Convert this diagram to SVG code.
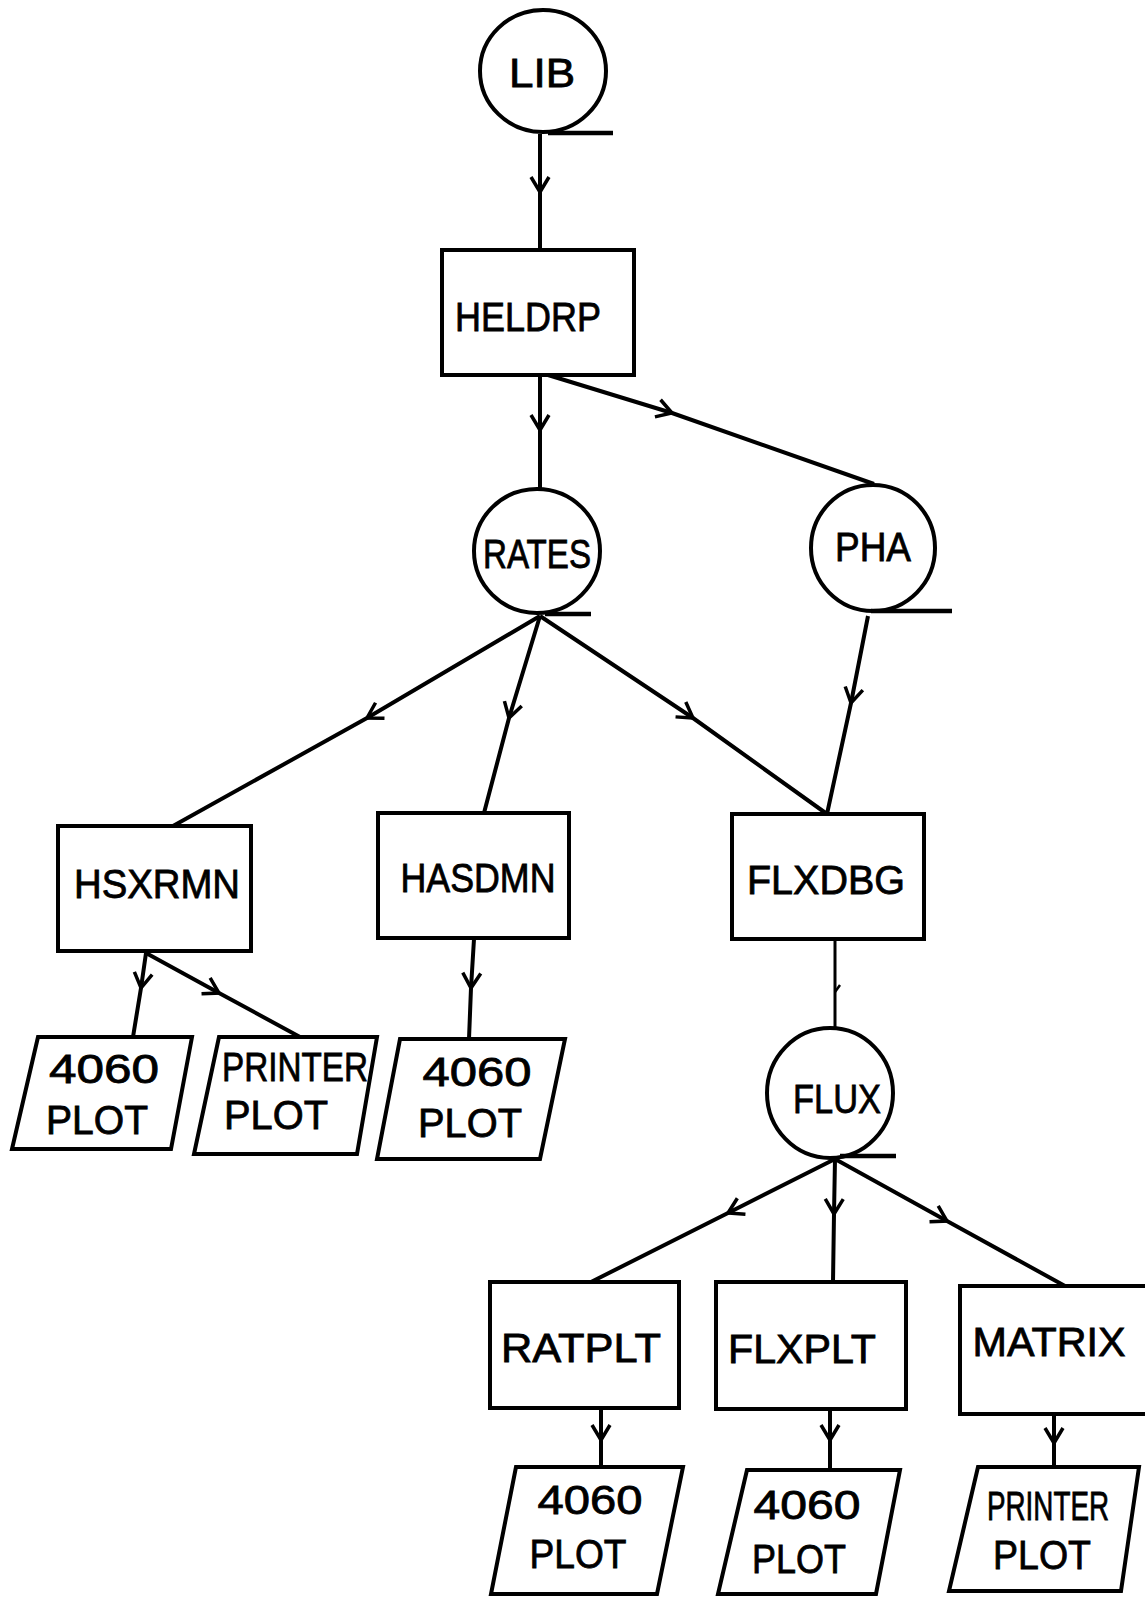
<svg xmlns="http://www.w3.org/2000/svg" width="1145" height="1598" viewBox="0 0 1145 1598">
<style>
.n{fill:none;stroke:#000;stroke-width:4}
.t{font-family:"Liberation Sans",Arial,sans-serif;font-size:40px;fill:#000;text-anchor:middle;stroke:#000;stroke-width:0.8}
.c{fill:none;stroke:#000;stroke-width:4;marker-mid:url(#chev)}
.bar{stroke:#000;stroke-width:4.5}
</style>
<defs>
<marker id="chev" markerUnits="userSpaceOnUse" orient="auto" overflow="visible" markerWidth="1" markerHeight="1" refX="0" refY="0">
<path d="M-15,-9 L0,0 L-15,9" fill="none" stroke="#000" stroke-width="3.5"/>
</marker>
<marker id="chevs" markerUnits="userSpaceOnUse" orient="auto" overflow="visible" markerWidth="1" markerHeight="1" refX="0" refY="0">
<path d="M-7,-5 L0,0" fill="none" stroke="#000" stroke-width="2.5"/>
</marker>
</defs>
<rect width="1145" height="1598" fill="#fff"/>

<g id="connectors">
<path class="c" d="M540,134 L540,192 L540,250"/>
<path class="c" d="M540,375 L540,430 L540,489"/>
<path class="c" d="M548,375 L672,413 L874,484"/>
<path class="c" d="M540,616 L367,718 L173,826" stroke-width="5"/>
<path class="c" d="M540,616 L509,718 L484,813"/>
<path class="c" d="M540,616 L693,718 L827,814"/>
<path class="c" d="M868,616 L851,703 L827,814"/>
<path class="c" d="M146,953 L141,988 L133,1037"/>
<path class="c" d="M146,953 L219,993 L300,1037"/>
<path class="c" d="M474,939 L471,988 L469,1039"/>
<path fill="none" stroke="#000" stroke-width="3" marker-mid="url(#chevs)" d="M835,939 L835,992 L835,1029"/>
<path class="c" d="M835,1159 L728,1213 L591,1282" stroke-width="5"/>
<path class="c" d="M835,1159 L834,1214 L833,1282"/>
<path class="c" d="M835,1159 L947,1221 L1065,1286" stroke-width="5"/>
<path class="c" d="M601,1409 L601,1440 L601,1467"/>
<path class="c" d="M830,1409 L830,1440 L830,1470"/>
<path class="c" d="M1054,1414 L1054,1443 L1054,1467"/>
</g>

<g id="LIB">
<ellipse class="n" cx="543" cy="71" rx="63" ry="61"/>
<line class="bar" x1="548" y1="133" x2="613" y2="133"/>
<text class="t" x="542" y="87" textLength="66" lengthAdjust="spacingAndGlyphs">LIB</text>
</g>
<g id="HELDRP">
<rect class="n" x="442" y="250" width="192" height="125"/>
<text class="t" x="528" y="331" textLength="146" lengthAdjust="spacingAndGlyphs">HELDRP</text>
</g>
<g id="RATES">
<ellipse class="n" cx="537" cy="551" rx="63" ry="62"/>
<line class="bar" x1="545" y1="614" x2="591" y2="614"/>
<text class="t" x="537" y="568" textLength="108" lengthAdjust="spacingAndGlyphs">RATES</text>
</g>
<g id="PHA">
<ellipse class="n" cx="873" cy="548" rx="62" ry="63"/>
<line class="bar" x1="871" y1="611" x2="952" y2="611"/>
<text class="t" x="873" y="561" textLength="76" lengthAdjust="spacingAndGlyphs">PHA</text>
</g>
<g id="HSXRMN">
<rect class="n" x="58" y="826" width="193" height="125"/>
<text class="t" x="157" y="898" textLength="166" lengthAdjust="spacingAndGlyphs">HSXRMN</text>
</g>
<g id="HASDMN">
<rect class="n" x="378" y="813" width="191" height="125"/>
<text class="t" x="478" y="892" textLength="155" lengthAdjust="spacingAndGlyphs">HASDMN</text>
</g>
<g id="FLXDBG">
<rect class="n" x="732" y="814" width="192" height="125"/>
<text class="t" x="826" y="894" textLength="158" lengthAdjust="spacingAndGlyphs">FLXDBG</text>
</g>
<g id="plot1">
<polygon class="n" points="38,1037 192,1037 171,1149 12,1149"/>
<text class="t" x="104" y="1083" textLength="110" lengthAdjust="spacingAndGlyphs">4060</text>
<text class="t" x="97" y="1134" textLength="102" lengthAdjust="spacingAndGlyphs">PLOT</text>
</g>
<g id="plot2">
<polygon class="n" points="219,1037 377,1037 357,1154 194,1154"/>
<text class="t" x="295" y="1081" textLength="146" lengthAdjust="spacingAndGlyphs">PRINTER</text>
<text class="t" x="276" y="1129" textLength="104" lengthAdjust="spacingAndGlyphs">PLOT</text>
</g>
<g id="plot3">
<polygon class="n" points="400,1039 565,1039 540,1159 377,1159"/>
<text class="t" x="477" y="1086" textLength="109" lengthAdjust="spacingAndGlyphs">4060</text>
<text class="t" x="470" y="1137" textLength="104" lengthAdjust="spacingAndGlyphs">PLOT</text>
</g>
<g id="FLUX">
<ellipse class="n" cx="830" cy="1093" rx="63" ry="65"/>
<line class="bar" x1="840" y1="1156" x2="896" y2="1156"/>
<text class="t" x="837" y="1113" textLength="88" lengthAdjust="spacingAndGlyphs">FLUX</text>
</g>
<g id="RATPLT">
<rect class="n" x="490" y="1282" width="189" height="126"/>
<text class="t" x="581" y="1362" textLength="160" lengthAdjust="spacingAndGlyphs">RATPLT</text>
</g>
<g id="FLXPLT">
<rect class="n" x="716" y="1282" width="190" height="127"/>
<text class="t" x="802" y="1363" textLength="148" lengthAdjust="spacingAndGlyphs">FLXPLT</text>
</g>
<g id="MATRIX">
<path class="n" d="M1150,1286 L960,1286 L960,1414 L1150,1414"/>
<text class="t" x="1049" y="1356" textLength="153" lengthAdjust="spacingAndGlyphs">MATRIX</text>
</g>
<g id="plot4">
<polygon class="n" points="516,1467 683,1467 657,1594 491,1594"/>
<text class="t" x="590" y="1514" textLength="105" lengthAdjust="spacingAndGlyphs">4060</text>
<text class="t" x="578" y="1568" textLength="97" lengthAdjust="spacingAndGlyphs">PLOT</text>
</g>
<g id="plot5">
<polygon class="n" points="747,1470 900,1470 876,1594 718,1594"/>
<text class="t" x="807" y="1519" textLength="107" lengthAdjust="spacingAndGlyphs">4060</text>
<text class="t" x="799" y="1573" textLength="94" lengthAdjust="spacingAndGlyphs">PLOT</text>
</g>
<g id="plot6">
<polygon class="n" points="978,1467 1139,1467 1121,1591 949,1591"/>
<text class="t" x="1048" y="1520" font-size="34" textLength="122" lengthAdjust="spacingAndGlyphs">PRINTER</text>
<text class="t" x="1042" y="1569" textLength="98" lengthAdjust="spacingAndGlyphs">PLOT</text>
</g>
</svg>
